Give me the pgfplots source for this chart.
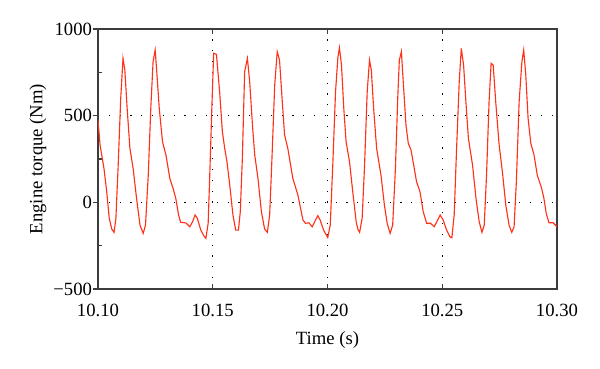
\documentclass[border=0pt]{standalone}
\usepackage{fontspec}
\setmainfont{Liberation Serif}
\usepackage{pgfplots}
\pgfplotsset{compat=1.18}
\definecolor{curve}{RGB}{255,50,25}
\definecolor{axgray}{RGB}{60,60,60}
\begin{document}
\begin{tikzpicture}
\path[use as bounding box] (-73.5pt,-59.25pt) rectangle (376.5pt,216.75pt);
\begin{axis}[
  scale only axis,
  width=344.25pt, height=195pt,
  xmin=10.1, xmax=10.3, ymin=-500, ymax=1000,
  font=\fontsize{14}{16}\selectfont,
  axis line style={axgray, line width=0.9pt},
  every tick/.style={axgray, line width=0.8pt},
  xtick={10.10,10.15,10.20,10.25,10.30},
  xticklabels={10.10,10.15,10.20,10.25,10.30},
  ytick={-500,0,500,1000},
  yticklabels={−500,0,500,1000},
  minor ytick={-250,250,750},
  xtick pos=both, ytick pos=left,
  tick align=inside,
  major tick length=4pt,
  minor tick length=3pt,
  major y tick style={xshift=-4pt},
  grid=major,
  major grid style={black, line width=0.85pt, dash pattern=on 0.85pt off 7.25pt},
  minor grid style={draw=none},
  xlabel={Time (s)},
  ylabel={Engine torque (Nm)},
  xlabel style={at={(axis description cs:0.5,0)}, anchor=center, yshift=-38pt},
  ylabel style={at={(axis description cs:-0.1307,0.5)}, anchor=center},
  xticklabel style={yshift=-8pt},
  yticklabel style={xshift=-1pt},
]
\addplot[curve, line width=0.85pt, no marks] table {
t v
10.1000 475
10.1009 330
10.1026 196
10.1038 61
10.1049 -92
10.1060 -154
10.1070 -173
10.1078 -92
10.1088 215
10.1099 600
10.1109 831
10.1117 763
10.1127 542
10.1139 312
10.1153 196
10.1168 23
10.1183 -131
10.1197 -179
10.1207 -131
10.1219 157
10.1230 542
10.1240 811
10.1249 879
10.1255 773
10.1267 542
10.1281 350
10.1296 273
10.1313 138
10.1327 81
10.1339 23
10.1351 -73
10.1360 -115
10.1383 -119
10.1400 -141
10.1412 -112
10.1423 -73
10.1432 -89
10.1448 -160
10.1461 -193
10.1470 -208
10.1480 -121
10.1487 157
10.1496 542
10.1504 860
10.1516 854
10.1530 638
10.1542 407
10.1552 312
10.1562 234
10.1574 100
10.1588 -73
10.1600 -160
10.1612 -160
10.1620 -54
10.1629 254
10.1639 754
10.1651 831
10.1661 696
10.1673 446
10.1683 273
10.1697 138
10.1712 -54
10.1726 -154
10.1738 -173
10.1748 -73
10.1758 254
10.1770 677
10.1781 869
10.1791 821
10.1803 580
10.1813 388
10.1827 312
10.1849 138
10.1871 42
10.1893 -102
10.1904 -121
10.1919 -118
10.1933 -141
10.1948 -102
10.1958 -77
10.1968 -102
10.1983 -160
10.2001 -203
10.2012 -131
10.2023 215
10.2035 638
10.2045 831
10.2052 892
10.2061 792
10.2071 542
10.2081 350
10.2096 234
10.2110 61
10.2125 -112
10.2132 -154
10.2140 -173
10.2151 -92
10.2161 196
10.2173 638
10.2183 821
10.2191 763
10.2201 542
10.2214 312
10.2233 157
10.2248 -16
10.2260 -121
10.2273 -179
10.2284 -131
10.2296 196
10.2306 600
10.2313 821
10.2322 869
10.2330 696
10.2342 446
10.2352 340
10.2364 302
10.2378 196
10.2388 119
10.2403 61
10.2417 -54
10.2432 -121
10.2449 -121
10.2465 -141
10.2480 -102
10.2491 -73
10.2504 -102
10.2519 -160
10.2533 -198
10.2542 -204
10.2552 -73
10.2562 292
10.2574 696
10.2583 888
10.2593 792
10.2603 580
10.2614 369
10.2632 215
10.2647 23
10.2661 -112
10.2673 -173
10.2683 -131
10.2693 157
10.2704 580
10.2713 802
10.2722 792
10.2733 580
10.2748 330
10.2762 177
10.2777 -16
10.2791 -131
10.2803 -173
10.2813 -141
10.2823 119
10.2835 580
10.2847 811
10.2855 879
10.2864 735
10.2874 485
10.2886 340
10.2900 273
10.2914 157
10.2933 81
10.2943 23
10.2953 -63
10.2965 -118
10.2983 -118
10.3000 -141
};
\end{axis}
\end{tikzpicture}
\end{document}
